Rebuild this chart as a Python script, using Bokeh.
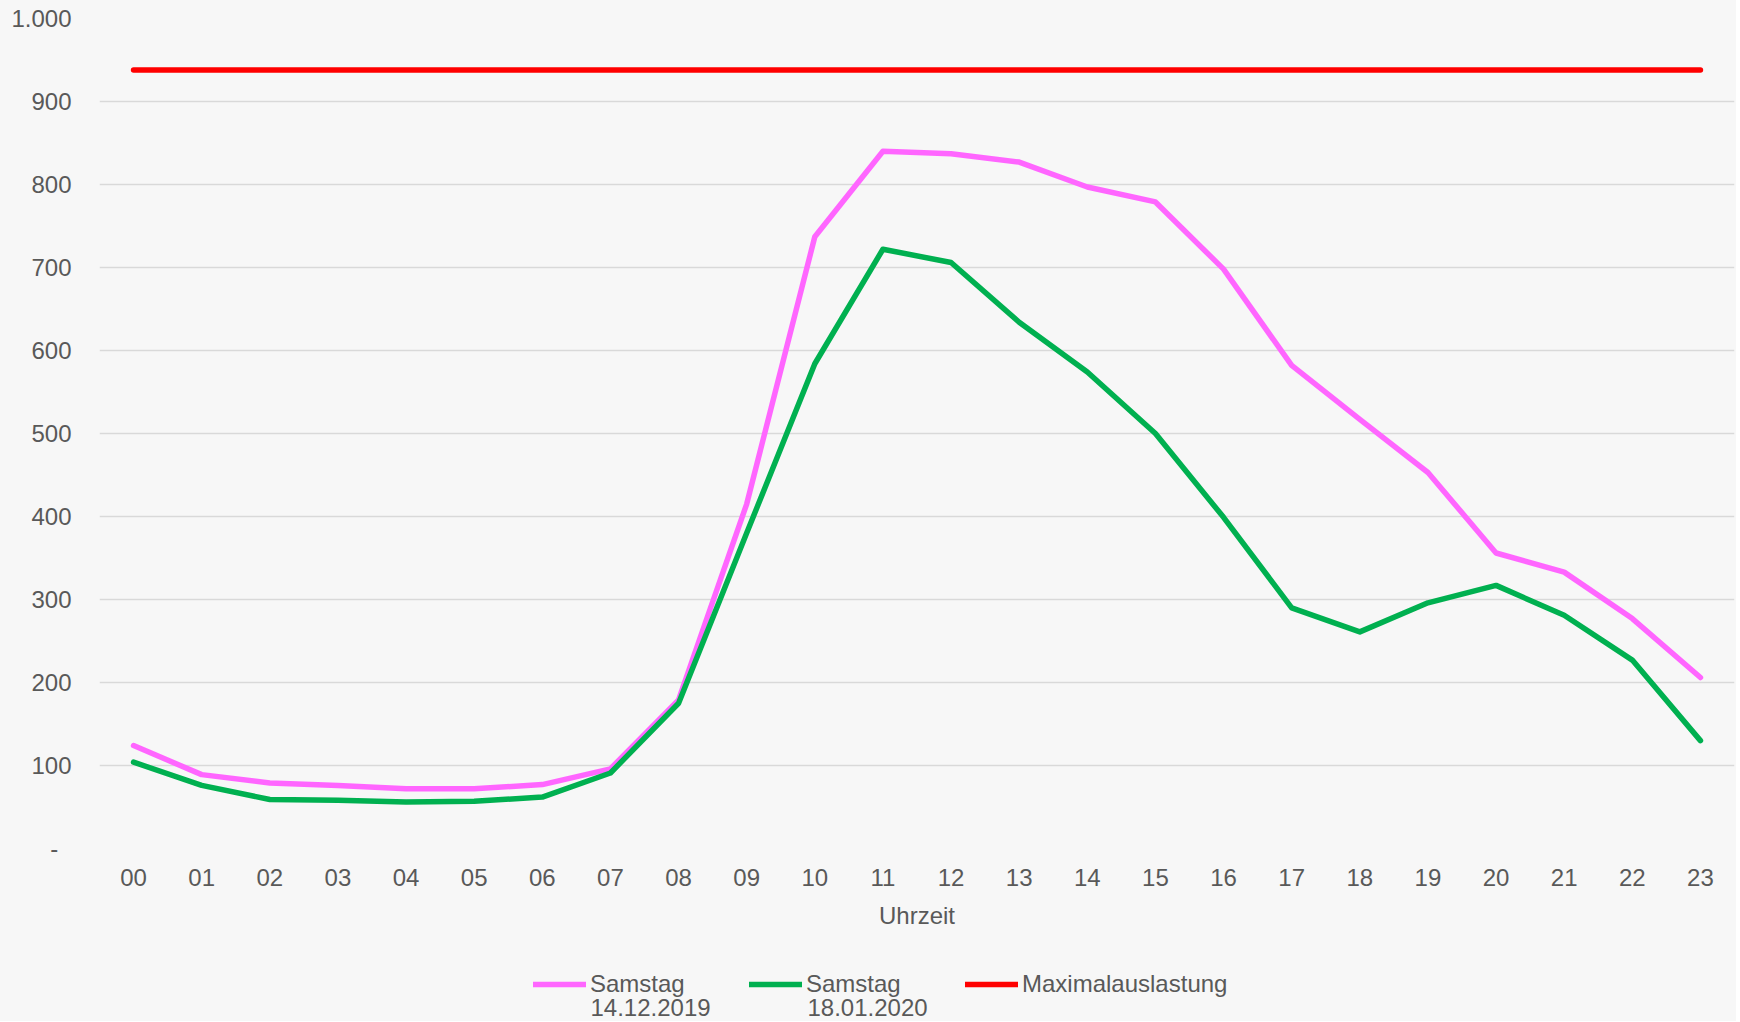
from bokeh.plotting import figure
from bokeh.layouts import column
from bokeh.models import Range1d, FixedTicker, Legend, LegendItem, ColumnDataSource, Label
from bokeh.embed import file_html
from bokeh.resources import INLINE

hours = ["00", "01", "02", "03", "04", "05", "06", "07", "08", "09", "10", "11",
         "12", "13", "14", "15", "16", "17", "18", "19", "20", "21", "22", "23"]
samstag_2019 = [124, 89, 79, 76, 72, 72, 77, 96, 179, 415, 737, 840,
                837, 827, 797, 779, 698, 582, 517, 453, 356, 333, 277, 206]
samstag_2020 = [104, 76, 59, 58, 56, 57, 62, 91, 175, 380, 584, 722,
                706, 634, 574, 500, 399, 290, 261, 296, 317, 281, 227, 130]
maximalauslastung = [938, 938, 938, 938, 938, 938, 938, 938, 938, 938, 938, 938,
                     938, 938, 938, 938, 938, 938, 938, 938, 938, 938, 938, 938]
y_ticks = [0, 100, 200, 300, 400, 500, 600, 700, 800, 900, 1000]
y_tick_labels = {0: "-\u00a0\u00a0", 1000: "1.000"}
series_names = ["Samstag", "Samstag", "Maximalauslastung"]
series_dates = ["14.12.2019", "18.01.2020"]
series_colors = ["#ff66ff", "#00b050", "#ff0000"]
series_cols = ["a", "b", "m"]

FONT = "Liberation Sans"
TXT = "#595959"
BG = "#f7f7f7"
LW = 5.5

src = ColumnDataSource(dict(h=hours, a=samstag_2019, b=samstag_2020, m=maximalauslastung))

p = figure(width=1736, height=940, x_range=hours, y_range=Range1d(0, 1000),
           output_backend="svg", toolbar_location=None,
           background_fill_color=BG, border_fill_color=BG,
           min_border_left=99, min_border_right=2, min_border_top=18, min_border_bottom=92)
p.outline_line_color = None

for c, col in zip(series_cols, series_colors):
    p.line("h", c, source=src, color=col, line_width=LW, line_cap="round", line_join="round")

p.xgrid.grid_line_color = None
p.ygrid.grid_line_color = "#d9d9d9"
p.ygrid.grid_line_width = 1.3

p.yaxis.ticker = FixedTicker(ticks=y_ticks)
p.yaxis.major_label_overrides = y_tick_labels
for ax in (p.xaxis[0], p.yaxis[0]):
    ax.axis_line_color = None
    ax.major_tick_line_color = None
    ax.minor_tick_line_color = None
    ax.major_tick_out = 0
    ax.major_tick_in = 0
    ax.major_label_text_font = FONT
    ax.major_label_text_font_size = "24px"
    ax.major_label_text_color = TXT
p.yaxis.major_label_standoff = 28
p.xaxis.major_label_standoff = 20
p.xaxis.axis_label = "Uhrzeit"
p.xaxis.axis_label_text_font = FONT
p.xaxis.axis_label_text_font_size = "24px"
p.xaxis.axis_label_text_font_style = "normal"
p.xaxis.axis_label_text_color = TXT
p.xaxis.axis_label_standoff = 13

# legend strip below the chart (its frame is aligned with the chart frame)
lg = figure(width=1736, height=81, x_range=hours, y_range=Range1d(0, 1000),
            x_axis_type=None, y_axis_type=None,
            output_backend="svg", toolbar_location=None,
            background_fill_color=BG, border_fill_color=BG,
            min_border=0, min_border_left=99, min_border_right=2,
            min_border_top=0, min_border_bottom=0)
lg.outline_line_color = None
lg.grid.visible = False
items = []
for name, c, col in zip(series_names, series_cols, series_colors):
    r = lg.line("h", c, source=src, color=col, line_width=LW, line_cap="round", visible=False)
    items.append(LegendItem(label=name, renderers=[r]))

legend = Legend(items=items, orientation="horizontal", location=(434, 23),
                label_text_font=FONT, label_text_font_size="24px", label_text_color=TXT,
                glyph_width=53, glyph_height=20, label_standoff=4, spacing=39,
                label_width=120, padding=0, margin=0,
                inactive_fill_alpha=0,
                border_line_color=None, background_fill_alpha=0)
lg.add_layout(legend)

for xs, d in zip([491, 708], series_dates):
    lg.add_layout(Label(x=xs, y=14, x_units="screen", y_units="screen", text=d,
                        text_font=FONT, text_font_size="24px", text_color=TXT,
                        text_baseline="middle", text_align="left"))

layout = column(p, lg, spacing=0, styles={"background-color": BG})
open("out.html", "w").write(file_html(layout, INLINE))
